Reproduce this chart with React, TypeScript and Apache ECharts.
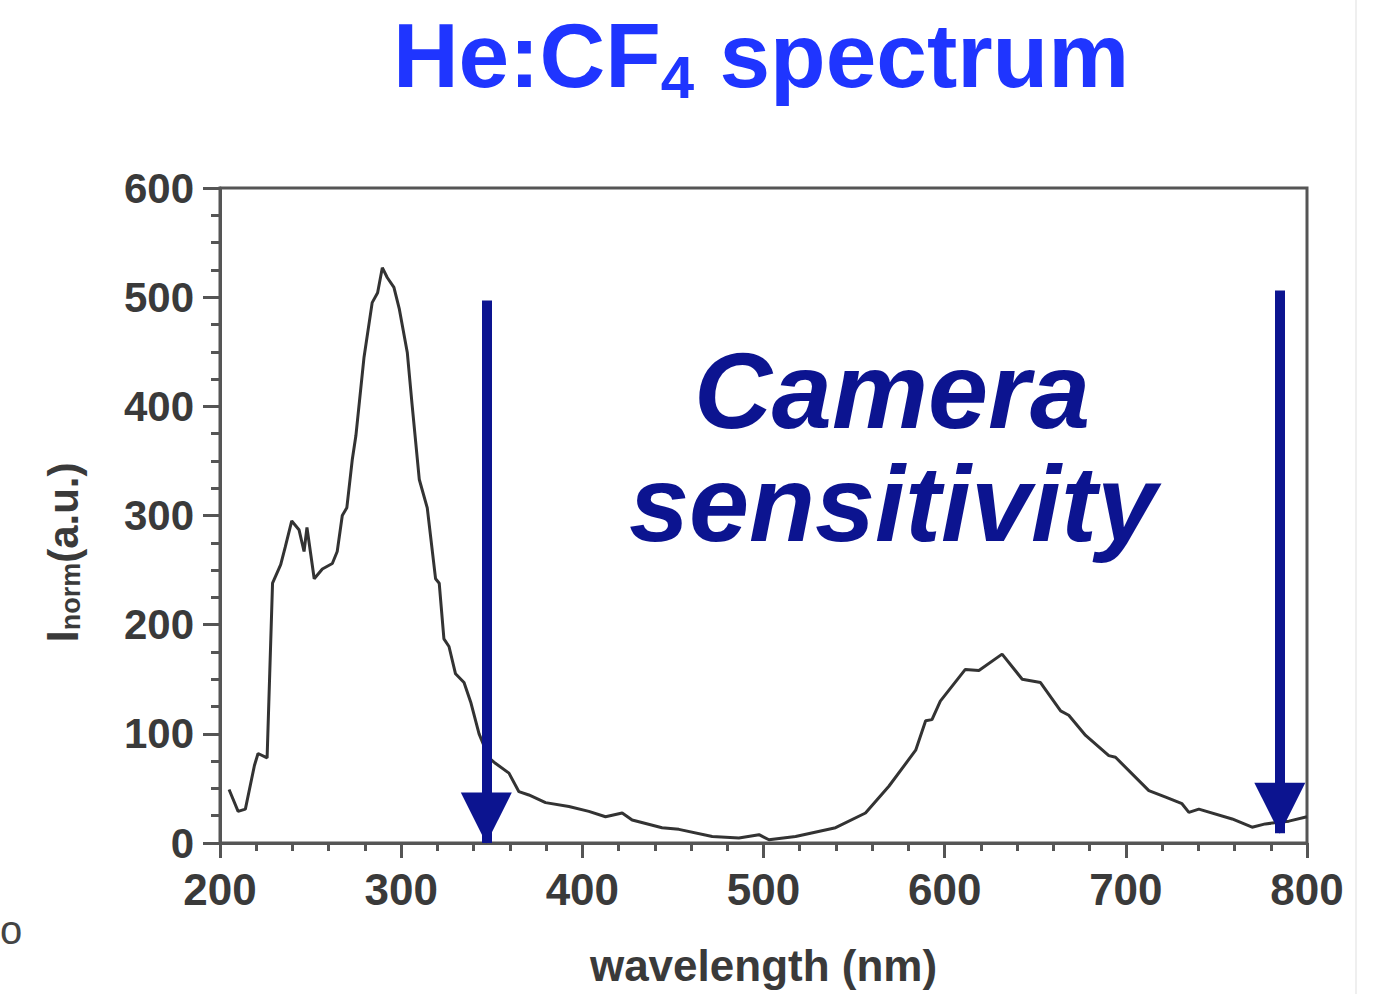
import React, { useEffect, useRef } from "react";
import * as echarts from "echarts";

// Spectrum: wavelength (nm) and normalised intensity (a.u.)
const wavelength = [
  205, 210, 214, 219, 221, 226, 229, 233.5, 236, 239.6, 243.6, 246.4, 248, 252,
  256.5, 262, 264.7, 267.5, 270, 273, 275, 279.5, 284, 287, 289.6, 292.3, 296,
  299, 303.4, 306, 310, 314.4, 319, 321, 323.6, 326.4, 330, 334.7, 338.4, 343,
  348.5, 352, 359.5, 365, 370.5, 379.7, 392.6, 403.6, 412.8, 422, 427.5, 444,
  453.3, 471.7, 486.4, 497.5, 503, 517.7, 539.8, 556.3, 569.2, 584, 589.5, 593,
  597.6, 611.4, 618.9, 631.7, 642.8, 652.9, 664, 668.5, 677.8, 690.6, 694.3,
  712.7, 722, 731, 734.8, 740.3, 758.7, 769.7, 777, 790, 800,
];
const intensity = [
  49, 29, 31, 71, 82, 78, 238, 255, 271, 295, 287, 267, 289, 242,
  251, 256, 267, 300, 307, 351, 373, 445, 495, 504, 527, 518, 509,
  489, 449, 402, 333, 307, 242, 238, 187, 180, 155, 147, 129, 100,
  78, 73, 64, 47, 44, 37, 33.5, 29, 24, 27.5, 21, 14,
  12.5, 6, 4.6, 7.6, 3, 6, 14, 27.5, 52, 85, 112, 113,
  130, 159, 158, 173, 150, 147, 121, 117, 98.5, 80, 78.5,
  48, 42, 36, 28, 31, 22, 14.5, 17.5, 20, 24,
];

// Camera sensitivity arrows (nm, from value down to tip value)
const arrowWavelength = [347, 785];
const arrowTop = [497, 506];
const arrowTip = [0, 9];

const yTickLabels = ["0", "100", "200", "300", "400", "500", "600"];
const xTickLabels = ["200", "300", "400", "500", "600", "700", "800"];

const titleMain = "He:CF";
const titleSub = "4";
const titleRest = " spectrum";
const cameraLines = ["Camera", "sensitivity"];

export default function App() {
  const ref = useRef<HTMLDivElement>(null);

  useEffect(() => {
    if (!ref.current) return;
    const chart = echarts.init(ref.current, null, { renderer: "svg" });
    const axisColor = "#555";
    const labelColor = "#3a3a3a";
    const font = "Liberation Sans, Arial, Helvetica, sans-serif";
    const arrowColor = "#0c1490";

    chart.setOption({
      animation: false,
      backgroundColor: "#ffffff",
      grid: {
        left: 220,
        right: 77,
        top: 188,
        bottom: 151,
        show: true,
        borderColor: axisColor,
        borderWidth: 3,
        backgroundColor: "transparent",
      },
      xAxis: {
        type: "value",
        min: 200,
        max: 800,
        interval: 100,
        name: "wavelength (nm)",
        nameLocation: "middle",
        nameGap: 100,
        nameTextStyle: {
          fontFamily: font,
          fontSize: 44,
          fontWeight: "bold",
          color: labelColor,
        },
        axisLine: { show: true, lineStyle: { color: axisColor, width: 3 } },
        axisTick: { show: true, length: 15, lineStyle: { color: axisColor, width: 3 } },
        minorTick: { show: true, splitNumber: 5, length: 8, lineStyle: { color: axisColor, width: 3 } },
        splitLine: { show: false },
        axisLabel: {
          margin: 24,
          fontFamily: font,
          fontSize: 44,
          fontWeight: "bold",
          color: labelColor,
          formatter: (v: number) => xTickLabels[Math.round((v - 200) / 100)] ?? String(v),
        },
      },
      yAxis: {
        type: "value",
        min: 0,
        max: 600,
        interval: 100,
        name: "{i|I}{s|norm}{a|(a.u.)}",
        nameLocation: "middle",
        nameGap: 136,
        nameTextStyle: {
          padding: [0, 74, 0, 0],
          color: labelColor,
          rich: {
            i: { fontFamily: font, fontSize: 44, fontWeight: "bold", color: labelColor, verticalAlign: "bottom" },
            s: { fontFamily: font, fontSize: 27, fontWeight: "bold", color: labelColor, verticalAlign: "bottom" },
            a: { fontFamily: font, fontSize: 42, fontWeight: "bold", color: labelColor, verticalAlign: "bottom" },
          },
        },
        axisLine: { show: true, lineStyle: { color: axisColor, width: 3 } },
        axisTick: { show: true, length: 17, lineStyle: { color: axisColor, width: 3 } },
        minorTick: { show: true, splitNumber: 4, length: 9, lineStyle: { color: axisColor, width: 3 } },
        splitLine: { show: false },
        axisLabel: {
          margin: 26,
          fontFamily: font,
          fontSize: 42,
          fontWeight: "bold",
          color: labelColor,
          formatter: (v: number) => yTickLabels[Math.round(v / 100)] ?? String(v),
        },
      },
      series: [
        {
          type: "line",
          data: wavelength.map((w, i) => [w, intensity[i]]),
          showSymbol: false,
          symbol: "none",
          lineStyle: { color: "#333", width: 3 },
          z: 3,
          markLine: {
            silent: true,
            symbol: ["none", "triangle"],
            symbolSize: 51,
            symbolOffset: [0, [0, 25]],
            label: { show: false },
            lineStyle: { color: arrowColor, width: 10, type: "solid" },
            emphasis: { disabled: true },
            data: arrowWavelength.map((w, i) => [
              { coord: [w, arrowTop[i]] },
              { coord: [w, arrowTip[i]] },
            ]),
          },
        },
      ],
      graphic: [
        {
          type: "text",
          x: 761,
          y: 10,
          style: {
            text: `{a|${titleMain}}{b|${titleSub}}{a|${titleRest}}`,
            align: "center",
            verticalAlign: "top",
            rich: {
              a: {
                fontFamily: font,
                fontSize: 91,
                fontWeight: "bold",
                fill: "#1f35ff",
                lineHeight: 91,
                verticalAlign: "top",
              },
              b: {
                fontFamily: font,
                fontSize: 60,
                fontWeight: "bold",
                fill: "#1f35ff",
                lineHeight: 60,
                verticalAlign: "top",
                padding: [37, 0, 0, 0],
              },
            },
          },
        },
        {
          type: "text",
          x: 892,
          y: 390,
          style: {
            text: cameraLines[0],
            fontFamily: font,
            fontSize: 108,
            fontWeight: "bold",
            fontStyle: "italic",
            fill: arrowColor,
            align: "center",
            verticalAlign: "middle",
          },
        },
        {
          type: "text",
          x: 893,
          y: 503,
          style: {
            text: cameraLines[1],
            fontFamily: font,
            fontSize: 108,
            fontWeight: "bold",
            fontStyle: "italic",
            fill: arrowColor,
            align: "center",
            verticalAlign: "middle",
          },
        },
        {
          type: "rect",
          shape: { x: 1355, y: 0, width: 2, height: 994 },
          style: { fill: "#efefef" },
        },
        {
          type: "text",
          x: 0,
          y: 930,
          style: {
            text: "o",
            fontFamily: font,
            fontSize: 40,
            fill: "#444",
            align: "left",
            verticalAlign: "middle",
          },
        },
      ],
    });

    return () => chart.dispose();
  }, []);

  return (
    <div
      ref={ref}
      style={{ position: "absolute", left: 0, top: 0, width: 1384, height: 994 }}
    />
  );
}
